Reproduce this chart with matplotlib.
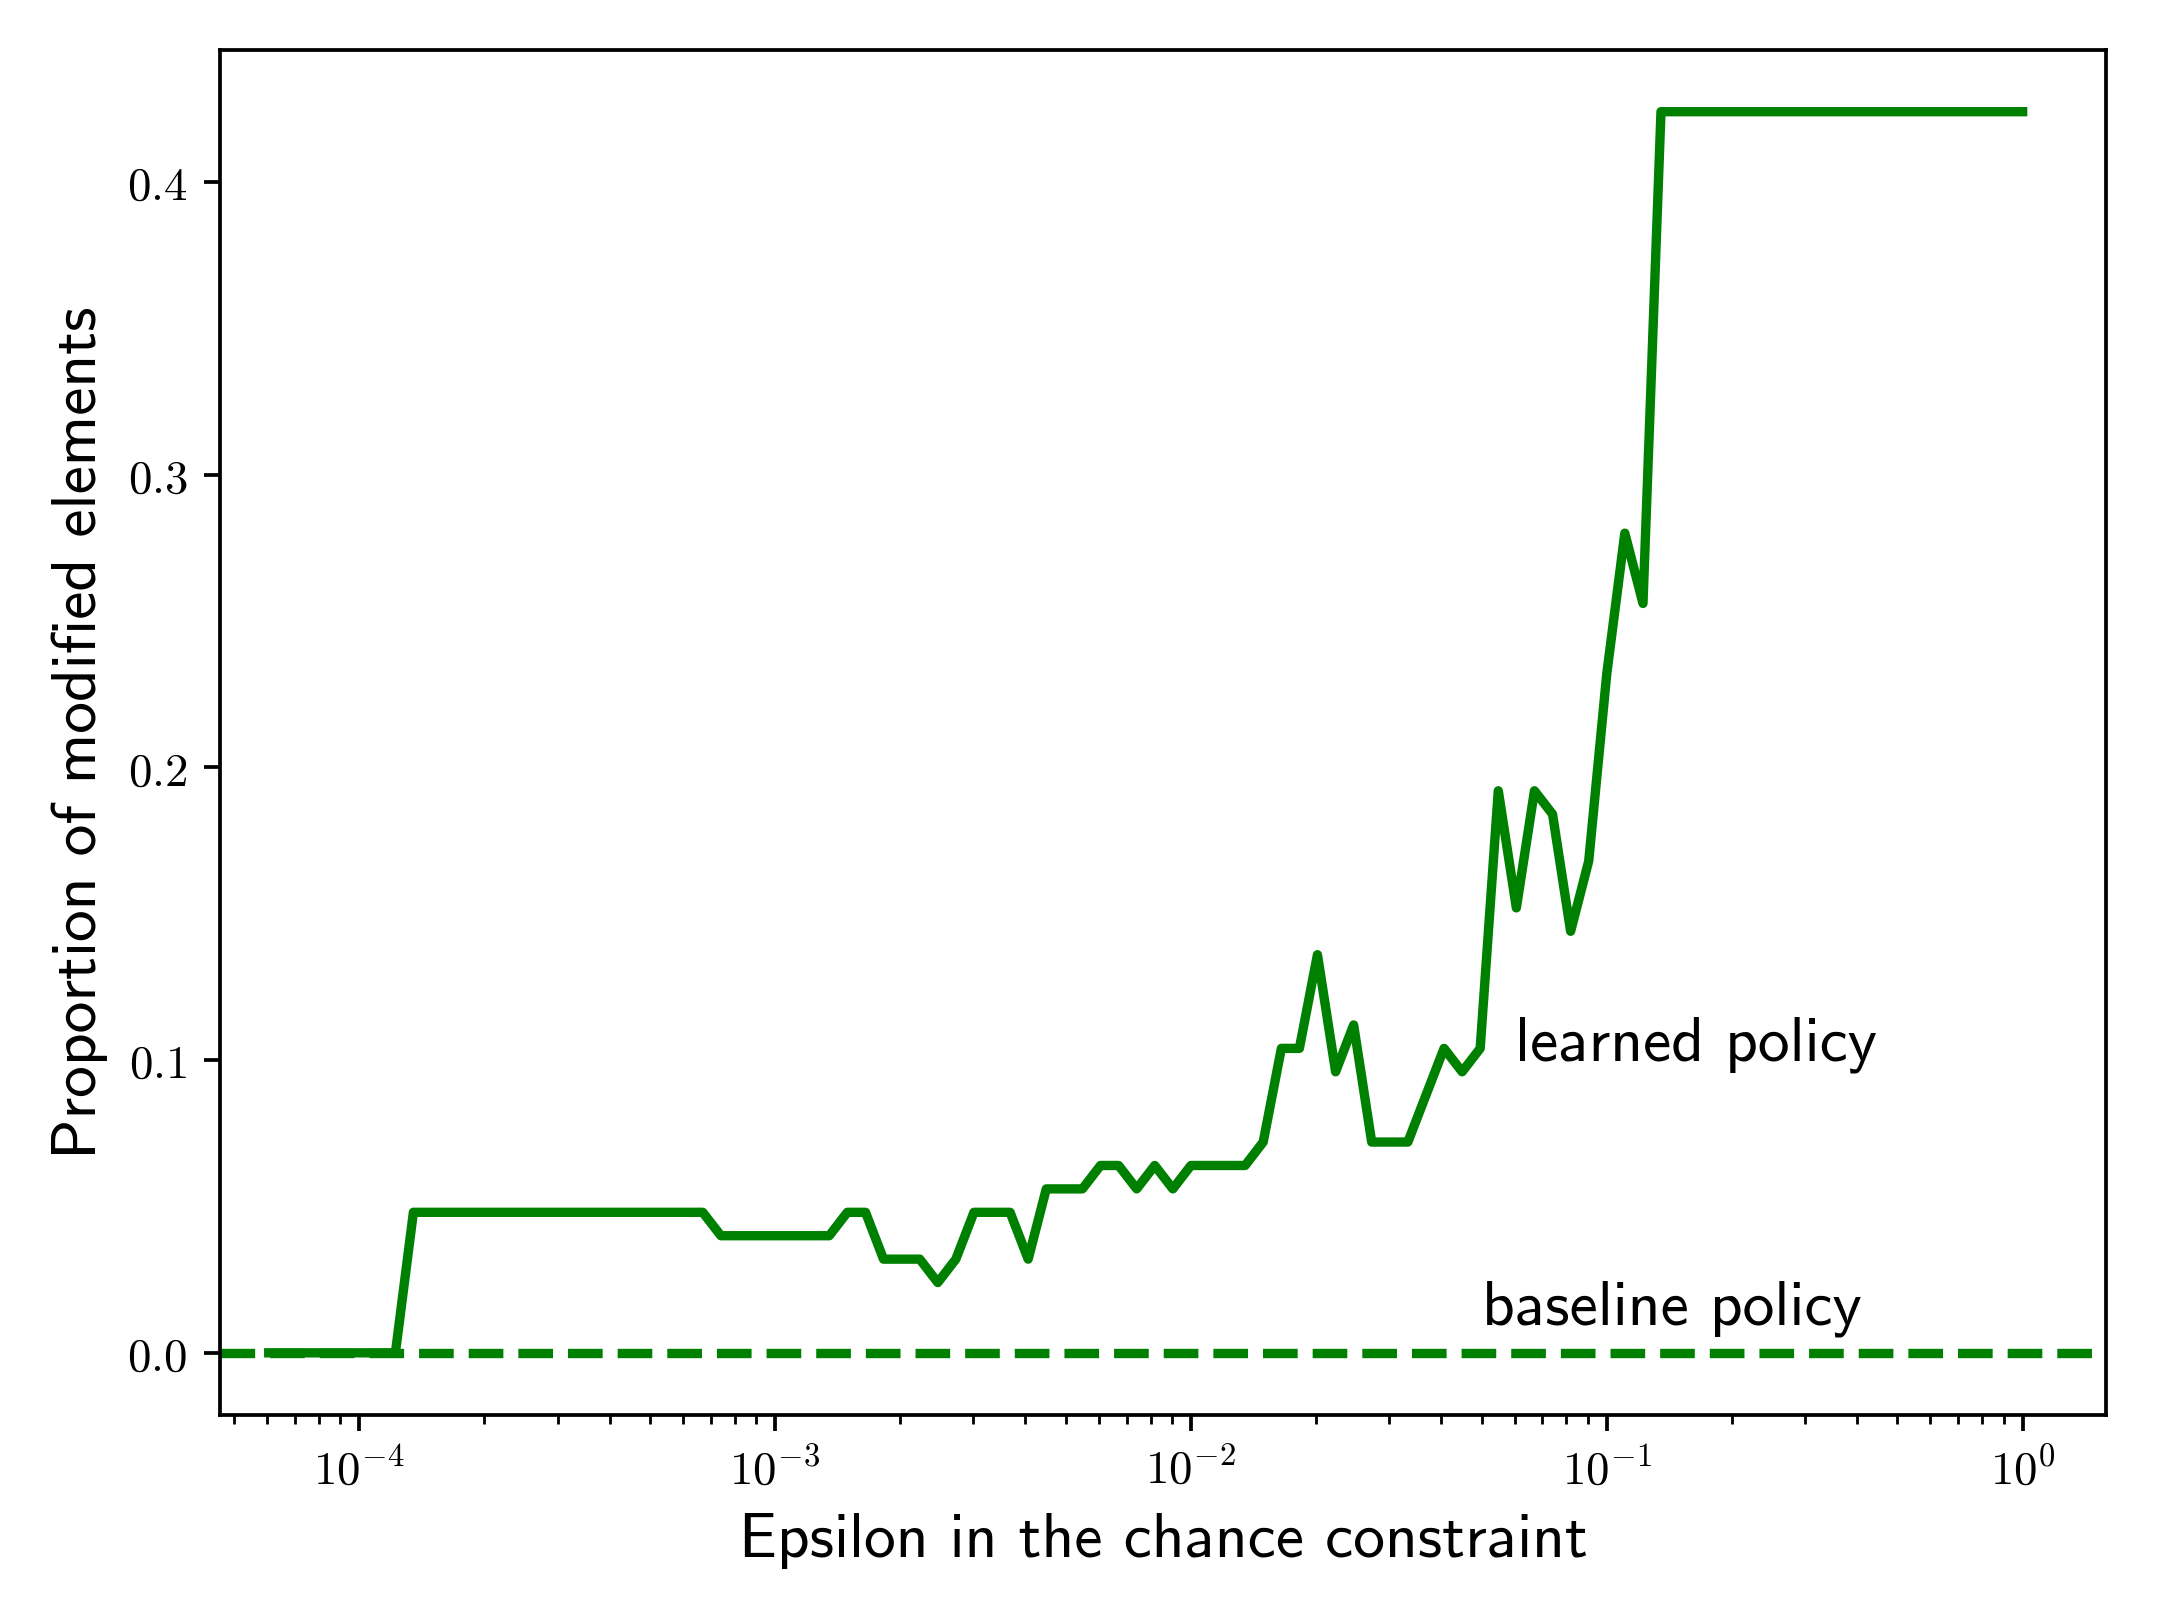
import numpy as np
import matplotlib
matplotlib.use("Agg")
import matplotlib.pyplot as plt
from matplotlib.ticker import FuncFormatter

plt.rcParams['mathtext.fontset'] = 'cm'

# epsilon values where the learned-policy curve changes slope
eps = [6.06e-5, 1.222e-4, 1.350e-4, 6.70e-4, 7.41e-4, 1.350e-3, 1.492e-3,
       1.650e-3, 1.823e-3, 2.228e-3, 2.462e-3, 2.721e-3, 3.008e-3, 3.674e-3,
       4.061e-3, 4.489e-3, 5.484e-3, 6.061e-3, 6.700e-3, 7.406e-3, 8.185e-3,
       9.048e-3, 1.0e-2, 1.350e-2, 1.492e-2, 1.650e-2, 1.823e-2, 2.015e-2,
       2.228e-2, 2.462e-2, 2.721e-2, 3.324e-2, 3.674e-2, 4.061e-2, 4.489e-2,
       4.961e-2, 5.484e-2, 6.061e-2, 6.700e-2, 7.406e-2, 8.185e-2, 9.048e-2,
       0.1, 0.1105, 0.1222, 0.1350, 1.0]

# proportion of modified elements, learned policy
learned = [0, 0, 0.048, 0.048, 0.040, 0.040, 0.048, 0.048, 0.032, 0.032,
           0.024, 0.032, 0.048, 0.048, 0.032, 0.056, 0.056, 0.064, 0.064,
           0.056, 0.064, 0.056, 0.064, 0.064, 0.072, 0.104, 0.104, 0.136,
           0.096, 0.112, 0.072, 0.072, 0.088, 0.104, 0.096, 0.104, 0.192,
           0.152, 0.192, 0.184, 0.144, 0.168, 0.232, 0.280, 0.256, 0.424,
           0.424]

# baseline policy never modifies anything
baseline = 0.0

fig, ax = plt.subplots(figsize=(6.4, 4.8), dpi=337.2)
fig.subplots_adjust(left=0.102, right=0.976, bottom=0.1255, top=0.969)

ax.plot(eps, learned, color='green', lw=2)
ax.axhline(baseline, color='green', ls='--', lw=2)
ax.set_xscale('log')
ax.set_xlim(4.63e-5, 1.589)

ax.text(0.06, 0.1, 'learned policy', fontfamily='cmss10', fontsize=13.55)
ax.text(0.05, 0.01, 'baseline policy', fontfamily='cmss10', fontsize=13.55)

ax.set_xticks([1e-4, 1e-3, 1e-2, 1e-1, 1e0])
ax.xaxis.set_major_formatter(FuncFormatter(lambda v, p: r'$10^{%d}$' % round(np.log10(v))))
ax.set_yticks([0.0, 0.1, 0.2, 0.3, 0.4])
ax.yaxis.set_major_formatter(FuncFormatter(lambda v, p: r'$%.1f$' % v))
ax.tick_params(labelsize=10)

ax.set_xlabel('Epsilon in the chance constraint', fontfamily='cmss10', fontsize=13.55)
ax.set_ylabel('Proportion of modified elements', fontfamily='cmss10', fontsize=13.55)

fig.savefig('out.png', dpi=337.2)
